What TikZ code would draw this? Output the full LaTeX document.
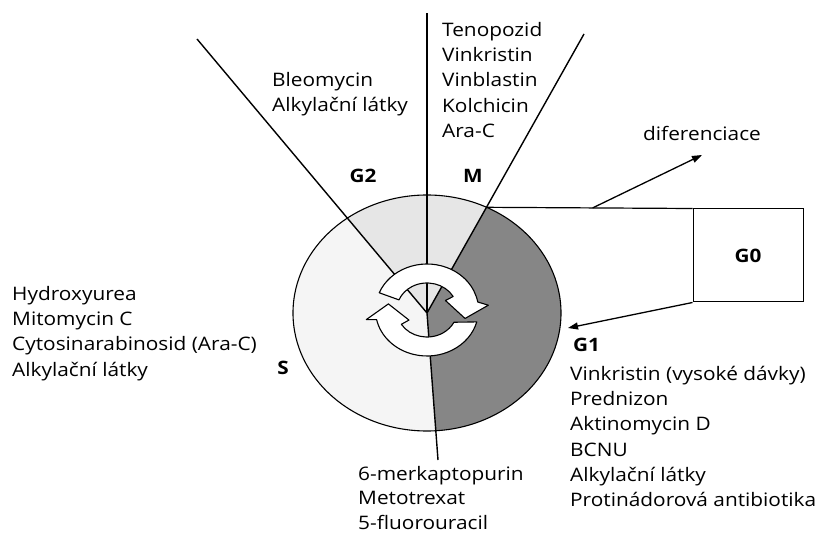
\documentclass[tikz,border=0pt]{standalone}
\usepackage{fontspec}
\setmainfont{Open Sans}[FakeStretch=1.12]
\usetikzlibrary{arrows.meta,calc}
\definecolor{gone}{HTML}{868686}
\definecolor{gtwo}{HTML}{E6E6E6}
\definecolor{sph}{HTML}{F5F5F5}
\begin{document}
\begin{tikzpicture}[x=1pt,y=1pt,
  drug/.style={font=\fontsize{18.6}{25.3}\selectfont, align=left, inner sep=0pt, anchor=north west},
  phase/.style={font=\fontsize{18.5}{20}\selectfont\bfseries, inner sep=0pt},
  radial/.style={line width=1.4pt},
  arr/.style={line width=1.3pt,-{Triangle[length=10pt,width=7pt]}},
  cyc/.style={fill=white,draw=black,line width=1.1pt,line join=round}]
\useasboundingbox (0,0) rectangle (816,533);
\coordinate (C) at (427,220);
% sectors
\begin{scope}[shift={(C)}]
  \fill[gone] (0,0) -- (-86.2:134 and 118) arc[start angle=-86.2,end angle=63.6,x radius=134,y radius=118] -- cycle;
  \fill[gtwo] (0,0) -- (63.6:134 and 118) arc[start angle=63.6,end angle=126.5,x radius=134,y radius=118] -- cycle;
  \fill[sph] (0,0) -- (126.5:134 and 118) arc[start angle=126.5,end angle=273.8,x radius=134,y radius=118] -- cycle;
  \coordinate (P) at (63.6:134 and 118);
\end{scope}
% radial lines
\coordinate (tl) at (197,494);
\coordinate (tm) at (427,520);
\coordinate (tr) at (584,499);
\coordinate (bt) at (438,73);
\draw[radial] (C) -- (tl);
\draw[radial] (C) -- (tm);
\draw[radial] (C) -- (tr);
\draw[radial] (C) -- (bt);
\draw[line width=1.1pt] (C) ellipse[x radius=134,y radius=118];
% cycle arrows
\begin{scope}[shift={(427,223)},xscale=1.12]
  \draw[cyc] (158:46) arc[start angle=158,end angle=10,radius=46] -- (5:55) -- (-14:35) -- (30:19) -- (30:27) arc[start angle=30,end angle=158,radius=27] -- cycle;
  \draw[cyc] (-15:46) arc[start angle=-15,end angle=-168,radius=46] -- (190:55) -- (170:35) -- (212:19) -- (212:27) arc[start angle=212,end angle=333,radius=27] -- cycle;
\end{scope}
% G0 box
\node[draw,line width=1pt,minimum width=110pt,minimum height=93pt,inner sep=0pt,
      font=\fontsize{18.5}{20}\selectfont\bfseries] (g0) at (748,277.5) {G0};
\draw[line width=1.2pt] (P) -- (g0.north west);
\coordinate (D) at ($(P)!0.515!(g0.north west)$);
\coordinate (dtip) at (702,378);
\coordinate (gtip) at (568,205);
\draw[arr] (D) -- (dtip);
\draw[arr] (g0.south west) -- (gtip);
% labels
\node[font=\fontsize{18.6}{25.3}\selectfont, inner sep=0pt, anchor=base west] (dif) at (643,392.3) {diferenciace};
\node[phase, anchor=base] (lg2) at (363,350) {G2};
\node[phase, anchor=base] (lm) at (473,350) {M};
\node[phase, anchor=base] (ls) at (283,158) {S};
\node[phase, anchor=base west] (lg1) at (573,181) {G1};
% drug lists
\node[drug] (ds) at (12,250.7) {\strut Hydroxyurea\\Mitomycin C\\Cytosinarabinosid (Ara-C)\\Alkylační látky};
\node[drug] (dg2) at (272,464.7) {\strut Bleomycin\\Alkylační látky};
\node[drug] (dm) at (442,514.7) {\strut Tenopozid\\Vinkristin\\Vinblastin\\Kolchicin\\Ara-C};
\node[drug] (dg1) at (570,170.7) {\strut Vinkristin (vysoké dávky)\\Prednizon\\Aktinomycin D\\BCNU\\Alkylační látky\\Protinádorová antibiotika};
\node[drug, font=\fontsize{18.6}{24.3}\selectfont] (dsb) at (358,69.7) {\strut 6-merkaptopurin\\Metotrexat\\5-fluorouracil};
\end{tikzpicture}
\end{document}
